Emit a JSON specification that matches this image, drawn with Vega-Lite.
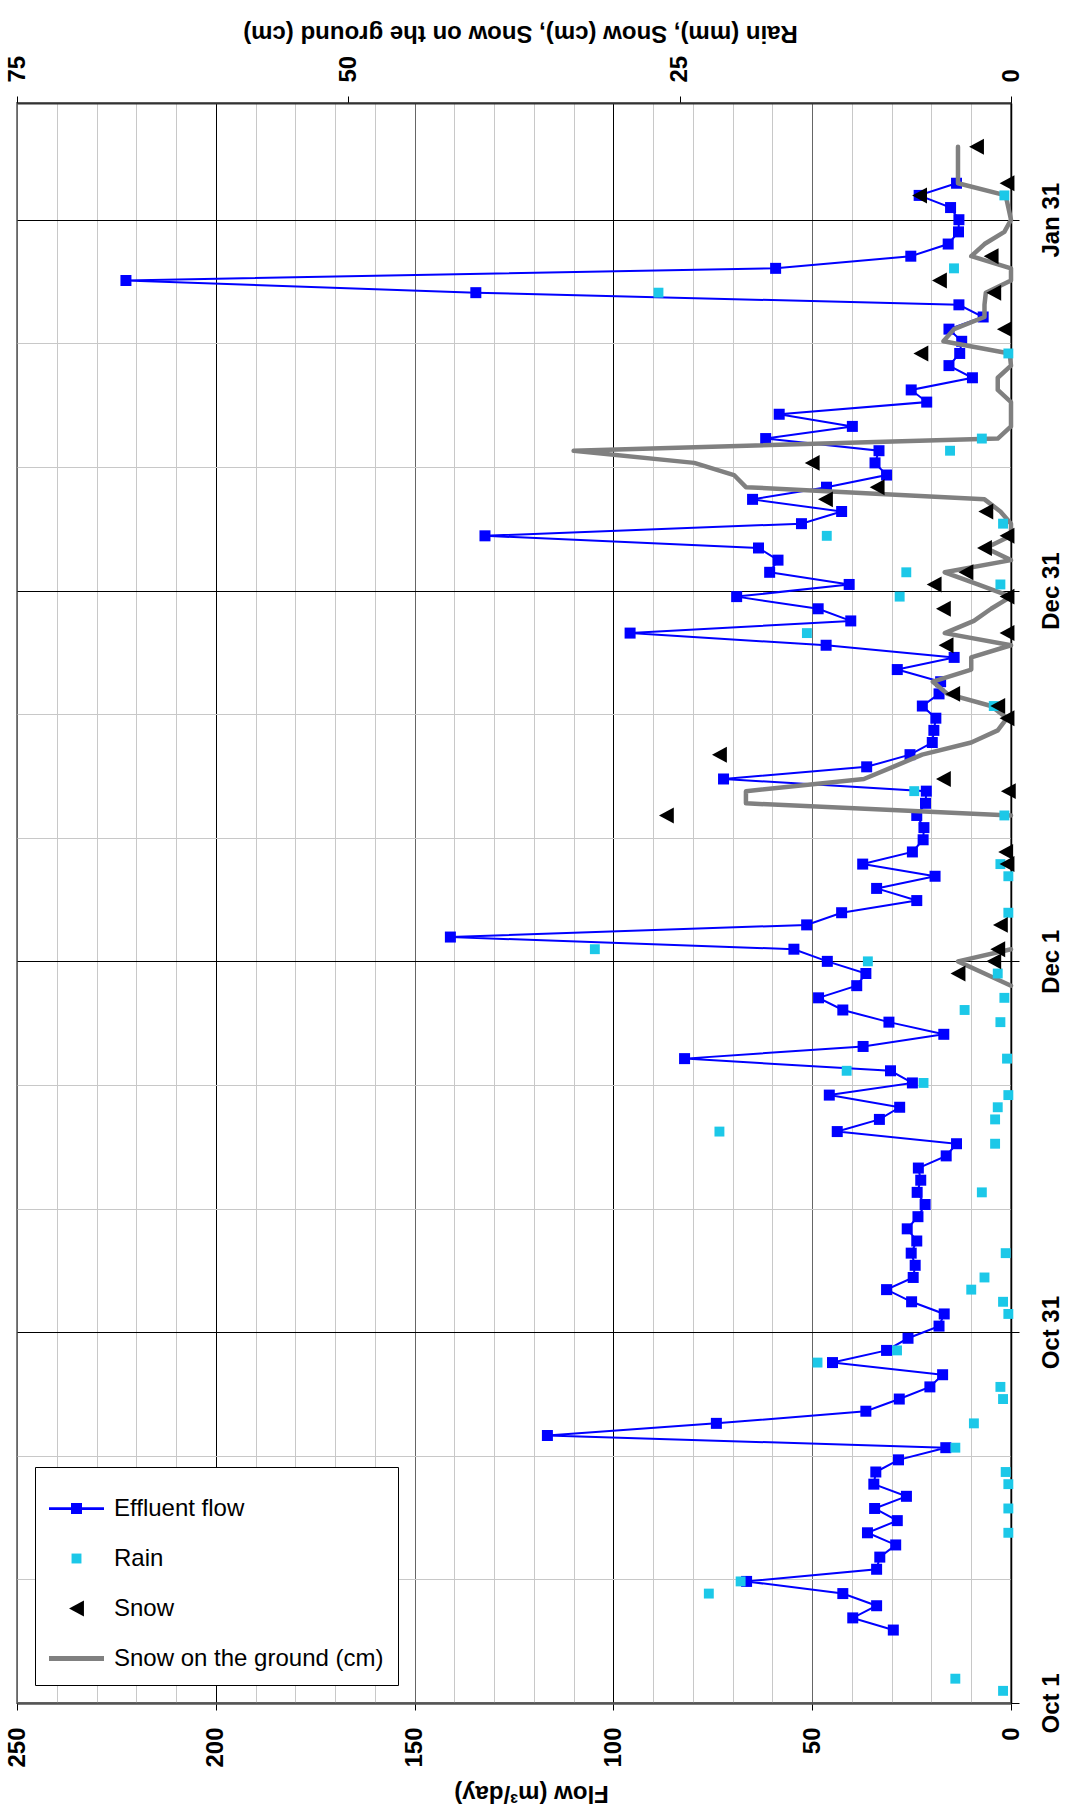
{
  "$schema": "https://vega.github.io/schema/vega-lite/v6.json",
  "width": 994,
  "height": 1600,
  "autosize": {"type": "none"},
  "padding": {"left": 17, "top": 103, "right": 58, "bottom": 115},
  "background": "white",
  "config": {
    "view": {"stroke": "#808080", "strokeWidth": 2},
    "font": "Liberation Sans",
    "axis": {
      "labelFont": "Liberation Sans", "labelFontWeight": "bold", "labelFontSize": 24, "labelColor": "black",
      "titleFont": "Liberation Sans", "titleFontWeight": "bold", "titleFontSize": 24, "titleColor": "black",
      "labelOverlap": false, "labelFlush": false, "labelBound": false
    }
  },
  "data": {"values": [
    {"date": "2006-10-02", "rain": 0.6},
    {"date": "2006-10-03", "rain": 4.2},
    {"date": "2006-10-07", "flow": 29.6},
    {"date": "2006-10-08", "flow": 39.8},
    {"date": "2006-10-09", "flow": 33.8},
    {"date": "2006-10-10", "flow": 42.3, "rain": 22.8},
    {"date": "2006-10-11", "flow": 66.5, "rain": 20.4},
    {"date": "2006-10-12", "flow": 33.8},
    {"date": "2006-10-13", "flow": 33.0},
    {"date": "2006-10-14", "flow": 29.0},
    {"date": "2006-10-15", "flow": 36.1, "rain": 0.2},
    {"date": "2006-10-16", "flow": 28.6},
    {"date": "2006-10-17", "flow": 34.3, "rain": 0.2},
    {"date": "2006-10-18", "flow": 26.3},
    {"date": "2006-10-19", "flow": 34.5, "rain": 0.2},
    {"date": "2006-10-20", "flow": 34.0, "rain": 0.4},
    {"date": "2006-10-21", "flow": 28.3},
    {"date": "2006-10-22", "flow": 16.4, "rain": 4.2},
    {"date": "2006-10-23", "flow": 116.6},
    {"date": "2006-10-24", "flow": 74.1, "rain": 2.8},
    {"date": "2006-10-25", "flow": 36.5},
    {"date": "2006-10-26", "flow": 28.1, "rain": 0.6},
    {"date": "2006-10-27", "flow": 20.4, "rain": 0.8},
    {"date": "2006-10-28", "flow": 17.2},
    {"date": "2006-10-29", "flow": 44.9, "rain": 14.6},
    {"date": "2006-10-30", "flow": 31.3, "rain": 8.6},
    {"date": "2006-10-31", "flow": 25.9},
    {"date": "2006-11-01", "flow": 18.1},
    {"date": "2006-11-02", "flow": 16.8, "rain": 0.2},
    {"date": "2006-11-03", "flow": 25.0, "rain": 0.6},
    {"date": "2006-11-04", "flow": 31.3, "rain": 3.0},
    {"date": "2006-11-05", "flow": 24.6, "rain": 2.0},
    {"date": "2006-11-06", "flow": 24.1},
    {"date": "2006-11-07", "flow": 25.1, "rain": 0.4},
    {"date": "2006-11-08", "flow": 23.7},
    {"date": "2006-11-09", "flow": 26.1},
    {"date": "2006-11-10", "flow": 23.4},
    {"date": "2006-11-11", "flow": 21.6},
    {"date": "2006-11-12", "flow": 23.6, "rain": 2.2},
    {"date": "2006-11-13", "flow": 22.7},
    {"date": "2006-11-14", "flow": 23.3},
    {"date": "2006-11-15", "flow": 16.3},
    {"date": "2006-11-16", "flow": 13.7, "rain": 1.2},
    {"date": "2006-11-17", "flow": 43.7, "rain": 22.0},
    {"date": "2006-11-18", "flow": 33.1, "rain": 1.2},
    {"date": "2006-11-19", "flow": 28.0, "rain": 1.0},
    {"date": "2006-11-20", "flow": 45.7, "rain": 0.2},
    {"date": "2006-11-21", "flow": 24.8, "rain": 6.6},
    {"date": "2006-11-22", "flow": 30.3, "rain": 12.4},
    {"date": "2006-11-23", "flow": 82.1, "rain": 0.3},
    {"date": "2006-11-24", "flow": 37.2},
    {"date": "2006-11-25", "flow": 16.9},
    {"date": "2006-11-26", "flow": 30.7, "rain": 0.8},
    {"date": "2006-11-27", "flow": 42.3, "rain": 3.5},
    {"date": "2006-11-28", "flow": 48.4, "rain": 0.5},
    {"date": "2006-11-29", "flow": 38.8, "ground": 0},
    {"date": "2006-11-30", "flow": 36.5, "rain": 1.0, "snow": 4.0, "ground": 2.0},
    {"date": "2006-12-01", "flow": 46.2, "rain": 10.8, "snow": 1.3, "ground": 4.0},
    {"date": "2006-12-02", "flow": 54.6, "rain": 31.4, "snow": 1.0, "ground": 0},
    {"date": "2006-12-03", "flow": 141.0},
    {"date": "2006-12-04", "flow": 51.4, "snow": 0.8},
    {"date": "2006-12-05", "flow": 42.6, "rain": 0.2},
    {"date": "2006-12-06", "flow": 23.7},
    {"date": "2006-12-07", "flow": 33.8},
    {"date": "2006-12-08", "flow": 19.1, "rain": 0.2},
    {"date": "2006-12-09", "flow": 37.3, "rain": 0.8, "snow": 0.3},
    {"date": "2006-12-10", "flow": 24.8, "snow": 0.4},
    {"date": "2006-12-11", "flow": 22.1},
    {"date": "2006-12-12", "flow": 21.9},
    {"date": "2006-12-13", "flow": 23.7, "rain": 0.5, "snow": 26.0, "ground": 0},
    {"date": "2006-12-14", "flow": 21.5, "ground": 20.0},
    {"date": "2006-12-15", "flow": 21.3, "rain": 7.3, "snow": 0.2, "ground": 20.0},
    {"date": "2006-12-16", "flow": 72.3, "snow": 5.1, "ground": 11.1},
    {"date": "2006-12-17", "flow": 36.3, "ground": 8.9},
    {"date": "2006-12-18", "flow": 25.4, "snow": 22.0, "ground": 6.7},
    {"date": "2006-12-19", "flow": 19.8, "ground": 3.0},
    {"date": "2006-12-20", "flow": 19.4, "ground": 1.0},
    {"date": "2006-12-21", "flow": 18.9, "snow": 0.3, "ground": 0.3},
    {"date": "2006-12-22", "flow": 22.3, "rain": 1.3, "snow": 1.0, "ground": 1.5},
    {"date": "2006-12-23", "flow": 18.1, "snow": 4.4, "ground": 4.8},
    {"date": "2006-12-24", "flow": 17.7, "ground": 5.9},
    {"date": "2006-12-25", "flow": 28.6, "ground": 3.0},
    {"date": "2006-12-26", "flow": 14.3, "ground": 3.0},
    {"date": "2006-12-27", "flow": 46.5, "snow": 4.9, "ground": 0},
    {"date": "2006-12-28", "flow": 95.8, "rain": 15.4, "snow": 0.3, "ground": 5.0},
    {"date": "2006-12-29", "flow": 40.3, "ground": 2.8},
    {"date": "2006-12-30", "flow": 48.5, "snow": 5.1, "ground": 1.5},
    {"date": "2006-12-31", "flow": 69.0, "rain": 8.4, "snow": 0.3, "ground": 0},
    {"date": "2007-01-01", "flow": 40.7, "rain": 0.8, "snow": 5.8, "ground": 2.5},
    {"date": "2007-01-02", "flow": 60.7, "rain": 7.9, "snow": 3.4, "ground": 5.0},
    {"date": "2007-01-03", "flow": 58.6, "ground": 0},
    {"date": "2007-01-04", "flow": 63.5, "snow": 2.0, "ground": 1.9},
    {"date": "2007-01-05", "flow": 132.3, "rain": 13.9, "snow": 0.3, "ground": 0},
    {"date": "2007-01-06", "flow": 52.7, "rain": 0.6, "ground": 0},
    {"date": "2007-01-07", "flow": 42.6, "snow": 1.9, "ground": 0.8},
    {"date": "2007-01-08", "flow": 65.0, "snow": 14.0, "ground": 2.0},
    {"date": "2007-01-09", "flow": 46.4, "snow": 10.1, "ground": 20.0},
    {"date": "2007-01-10", "flow": 31.3, "ground": 20.9},
    {"date": "2007-01-11", "flow": 34.2, "snow": 15.0, "ground": 23.9},
    {"date": "2007-01-12", "flow": 33.2, "rain": 4.6, "ground": 33.0},
    {"date": "2007-01-13", "flow": 61.7, "rain": 2.2, "ground": 1.0},
    {"date": "2007-01-14", "flow": 39.9, "ground": 0},
    {"date": "2007-01-15", "flow": 58.3, "ground": 0},
    {"date": "2007-01-16", "flow": 21.2, "ground": 0},
    {"date": "2007-01-17", "flow": 25.1, "ground": 1.0},
    {"date": "2007-01-18", "flow": 9.7, "ground": 1.0},
    {"date": "2007-01-19", "flow": 15.6, "ground": 0},
    {"date": "2007-01-20", "flow": 12.9, "rain": 0.2, "snow": 6.8, "ground": 0.1},
    {"date": "2007-01-21", "flow": 12.4, "ground": 5.1},
    {"date": "2007-01-22", "flow": 15.6, "snow": 0.5, "ground": 4.3},
    {"date": "2007-01-23", "flow": 7.0, "ground": 2.0},
    {"date": "2007-01-24", "flow": 13.1, "ground": 2.0},
    {"date": "2007-01-25", "flow": 134.6, "rain": 26.6, "snow": 1.3, "ground": 1.9},
    {"date": "2007-01-26", "flow": 222.6, "snow": 5.4, "ground": 0},
    {"date": "2007-01-27", "flow": 59.2, "rain": 4.3, "ground": 0},
    {"date": "2007-01-28", "flow": 25.2, "snow": 1.5, "ground": 3.0},
    {"date": "2007-01-29", "flow": 15.8, "ground": 2.0},
    {"date": "2007-01-30", "flow": 13.2, "ground": 0.5},
    {"date": "2007-01-31", "flow": 13.1, "ground": 0},
    {"date": "2007-02-01", "flow": 15.2, "ground": 0.2},
    {"date": "2007-02-02", "flow": 23.1, "rain": 0.5, "snow": 6.9, "ground": 0.4},
    {"date": "2007-02-03", "flow": 13.7, "snow": 0.3, "ground": 4.0},
    {"date": "2007-02-04", "ground": 4.0},
    {"date": "2007-02-05", "ground": 4.0},
    {"date": "2007-02-06", "snow": 2.6, "ground": 4.0}
  ]},
  "encoding": {
    "y": {
      "field": "date", "type": "temporal",
      "scale": {"type": "utc", "domain": [
        {"year": 2006, "month": 10, "date": 1, "utc": true},
        {"year": 2007, "month": 2, "date": 9, "hours": 14, "minutes": 24, "utc": true}
      ]},
      "axis": {
        "orient": "right",
        "values": [
          {"year": 2006, "month": 10, "date": 1, "utc": true},
          {"year": 2006, "month": 10, "date": 11, "hours": 4, "utc": true},
          {"year": 2006, "month": 10, "date": 21, "hours": 8, "utc": true},
          {"year": 2006, "month": 10, "date": 31, "hours": 12, "utc": true},
          {"year": 2006, "month": 11, "date": 10, "hours": 16, "utc": true},
          {"year": 2006, "month": 11, "date": 20, "hours": 20, "utc": true},
          {"year": 2006, "month": 12, "date": 1, "utc": true},
          {"year": 2006, "month": 12, "date": 11, "hours": 4, "utc": true},
          {"year": 2006, "month": 12, "date": 21, "hours": 8, "utc": true},
          {"year": 2006, "month": 12, "date": 31, "hours": 12, "utc": true},
          {"year": 2007, "month": 1, "date": 10, "hours": 16, "utc": true},
          {"year": 2007, "month": 1, "date": 20, "hours": 20, "utc": true},
          {"year": 2007, "month": 1, "date": 31, "utc": true}
        ],
        "labelExpr": "utchours(datum.value) % 12 === 0 ? utcFormat(datum.value, '%b %-d') : ''",
        "labelAngle": 270, "labelAlign": "center", "labelBaseline": "top",
        "labelPadding": 20, "tickSize": 8, "tickColor": "black",
        "tickOpacity": {"condition": {"test": "utchours(datum.value) % 12 === 0", "value": 1}, "value": 0},
        "grid": true,
        "gridColor": {"condition": {"test": "utchours(datum.value) % 12 === 0", "value": "black"}, "value": "#C8C8C8"},
        "gridWidth": 1,
        "domainColor": "black", "domainWidth": 1.5,
        "title": null
      }
    }
  },
  "layer": [
    {
      "encoding": {
        "x": {
          "field": "flow", "type": "quantitative",
          "scale": {"domain": [0, 250], "reverse": true},
          "axis": {
            "orient": "bottom",
            "values": [0, 10, 20, 30, 40, 50, 60, 70, 80, 90, 100, 110, 120, 130, 140, 150, 160, 170, 180, 190, 200, 210, 220, 230, 240, 250],
            "labelExpr": "datum.value % 50 === 0 ? datum.label : ''",
            "labelAngle": 270, "labelAlign": "right", "labelBaseline": "middle",
            "labelPadding": 17, "tickSize": 7, "tickColor": "black",
            "tickOpacity": {"condition": {"test": "datum.value % 50 === 0", "value": 1}, "value": 0},
            "grid": true,
            "gridColor": {"condition": [
              {"test": "datum.value % 100 === 0", "value": "black"},
              {"test": "datum.value % 50 === 0", "value": "#666666"}
            ], "value": "#C8C8C8"},
            "gridWidth": 1,
            "domainColor": "#555555", "domainWidth": 2.5,
            "title": "Flow (m³/day)", "titleAngle": 180, "titleBaseline": "alphabetic", "titleAlign": "center",
            "titleX": 514, "titleY": 82
          }
        }
      },
      "layer": [
        {
          "mark": {"type": "line", "color": "#0000FF", "strokeWidth": 2},
          "encoding": {"order": {"field": "date", "type": "temporal"}}
        },
        {
          "mark": {"type": "point", "shape": "square", "filled": true, "size": 121, "opacity": 1, "strokeWidth": 0},
          "encoding": {
            "color": {
              "datum": "Effluent flow", "type": "nominal",
              "scale": {"domain": ["Effluent flow", "Rain", "Snow", "Snow on the ground (cm)"], "range": ["#0000FF", "#1CC8E8", "#000000", "#808080"]},
              "legend": {
                "title": null, "orient": "bottom-left", "offset": 18,
                "fillColor": "white", "strokeColor": "black", "padding": 14,
                "labelFont": "Liberation Sans", "labelFontSize": 24, "labelFontWeight": "normal", "labelColor": "black",
                "symbolSize": 3025, "symbolStrokeWidth": 0, "symbolOpacity": 1,
                "rowPadding": 10, "labelOffset": 10, "labelLimit": 500
              }
            }
          }
        }
      ]
    },
    {
      "layer": [
        {
          "mark": {"type": "line", "color": "#808080", "strokeWidth": 4.5, "strokeJoin": "round", "strokeCap": "round", "invalid": "break-paths-filter-domains"},
          "encoding": {
            "x": {
              "field": "ground", "type": "quantitative",
              "scale": {"domain": [0, 75], "reverse": true},
              "axis": {
                "orient": "top", "values": [0, 25, 50, 75],
                "labelAngle": 270, "labelAlign": "left", "labelBaseline": "middle",
                "labelPadding": 14, "tickSize": 7, "tickColor": "black",
                "grid": false, "domainColor": "#333333", "domainWidth": 2,
                "title": "Rain (mm), Snow (cm), Snow on the ground (cm)", "titleAngle": 180, "titleBaseline": "alphabetic", "titleAlign": "center",
                "titleX": 503, "titleY": -78
              }
            },
            "order": {"field": "date", "type": "temporal"}
          }
        },
        {
          "mark": {"type": "point", "filled": true, "size": 3025, "opacity": 1, "strokeWidth": 0},
          "encoding": {
            "x": {
              "field": "rain", "type": "quantitative",
              "scale": {"domain": [0, 75], "reverse": true},
              "axis": {
                "orient": "top", "values": [0, 25, 50, 75],
                "labelAngle": 270, "labelAlign": "left", "labelBaseline": "middle",
                "labelPadding": 14, "tickSize": 7, "tickColor": "black",
                "grid": false, "domainColor": "#333333", "domainWidth": 2,
                "title": "Rain (mm), Snow (cm), Snow on the ground (cm)", "titleAngle": 180, "titleBaseline": "alphabetic", "titleAlign": "center",
                "titleX": 503, "titleY": -78
              }
            },
            "color": {
              "datum": "Rain", "type": "nominal",
              "scale": {"domain": ["Effluent flow", "Rain", "Snow", "Snow on the ground (cm)"], "range": ["#0000FF", "#1CC8E8", "#000000", "#808080"]}
            },
            "shape": {
              "datum": "Rain", "type": "nominal",
              "scale": {"domain": ["Effluent flow", "Rain", "Snow", "Snow on the ground (cm)"], "range": [
                "M-1,-0.05L1,-0.05L1,0.05L-1,0.05Z M-0.2,-0.2L0.2,-0.2L0.2,0.2L-0.2,0.2Z",
                "M-0.18,-0.18L0.18,-0.18L0.18,0.18L-0.18,0.18Z",
                "M-0.27,0L0.27,-0.29L0.27,0.29Z",
                "M-1,-0.09L1,-0.09L1,0.09L-1,0.09Z"
              ]}
            }
          }
        },
        {
          "mark": {"type": "point", "filled": true, "size": 3025, "opacity": 1, "strokeWidth": 0},
          "encoding": {
            "x": {
              "field": "snow", "type": "quantitative",
              "scale": {"domain": [0, 75], "reverse": true},
              "axis": {
                "orient": "top", "values": [0, 25, 50, 75],
                "labelAngle": 270, "labelAlign": "left", "labelBaseline": "middle",
                "labelPadding": 14, "tickSize": 7, "tickColor": "black",
                "grid": false, "domainColor": "#333333", "domainWidth": 2,
                "title": "Rain (mm), Snow (cm), Snow on the ground (cm)", "titleAngle": 180, "titleBaseline": "alphabetic", "titleAlign": "center",
                "titleX": 503, "titleY": -78
              }
            },
            "color": {
              "datum": "Snow", "type": "nominal",
              "scale": {"domain": ["Effluent flow", "Rain", "Snow", "Snow on the ground (cm)"], "range": ["#0000FF", "#1CC8E8", "#000000", "#808080"]}
            },
            "shape": {
              "datum": "Snow", "type": "nominal",
              "scale": {"domain": ["Effluent flow", "Rain", "Snow", "Snow on the ground (cm)"], "range": [
                "M-1,-0.05L1,-0.05L1,0.05L-1,0.05Z M-0.2,-0.2L0.2,-0.2L0.2,0.2L-0.2,0.2Z",
                "M-0.18,-0.18L0.18,-0.18L0.18,0.18L-0.18,0.18Z",
                "M-0.27,0L0.27,-0.29L0.27,0.29Z",
                "M-1,-0.09L1,-0.09L1,0.09L-1,0.09Z"
              ]}
            }
          }
        }
      ]
    }
  ],
  "resolve": {"scale": {"x": "independent"}, "axis": {"x": "independent"}}
}
